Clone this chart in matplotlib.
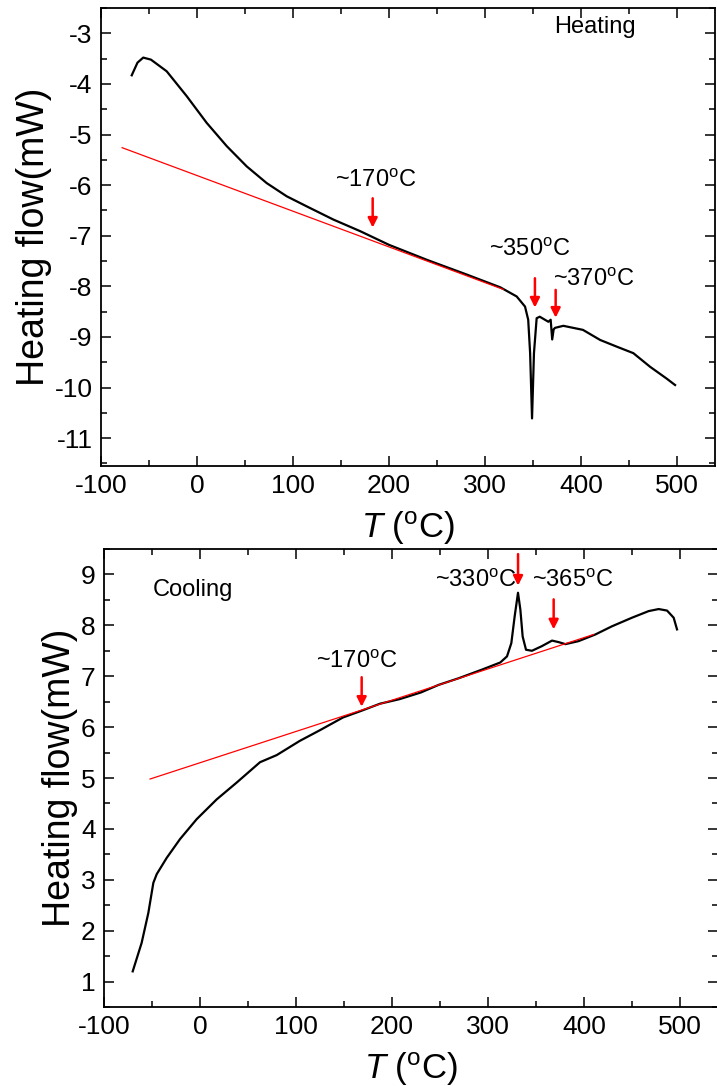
import matplotlib
matplotlib.use("Agg")
import matplotlib.pyplot as plt
from matplotlib.ticker import MultipleLocator

plt.rcParams["font.family"] = ["Liberation Sans", "DejaVu Sans"]
plt.rcParams["mathtext.fontset"] = "custom"
plt.rcParams["mathtext.rm"] = "Liberation Sans"
plt.rcParams["mathtext.it"] = "Liberation Sans:italic"
plt.rcParams["axes.unicode_minus"] = False

# heating run (top panel)
heat_T = [-68, -62, -56, -48, -31.6, -10.8, 10.1, 31, 51.8, 72.6, 93.4, 114.3, 142, 170,
          200, 240, 280, 316, 333, 341.7, 345, 347, 349, 351, 353.8, 357, 366, 368.4,
          370, 371.5, 373, 381.6, 402, 420, 437, 454.5, 472, 489, 498]
heat_flow = [-3.83, -3.58, -3.48, -3.52, -3.75, -4.24, -4.77, -5.23, -5.63, -5.96, -6.22,
             -6.42, -6.68, -6.91, -7.18, -7.48, -7.76, -8.02, -8.20, -8.40, -8.66, -9.32,
             -10.61, -9.32, -8.63, -8.60, -8.70, -8.66, -9.05, -8.85, -8.82, -8.78, -8.86,
             -9.06, -9.19, -9.32, -9.59, -9.82, -9.95]
heat_base_T = [-78, 319]
heat_base = [-5.26, -8.06]

# cooling run (bottom panel)
cool_T = [-70.1, -60.8, -53.8, -48.6, -45.1, -34.7, -20.8, -3.5, 17.4, 38.2, 62.5, 79.9,
          104, 125, 149, 168, 187.5, 208, 230, 248.6, 269.4, 293.75, 312.8, 319.8, 324.3,
          327.8, 331.25, 333.7, 336.1, 339.6, 345.8, 356, 366.7, 373.6, 380.6, 394.4,
          411.8, 429, 450, 467.4, 477.8, 486.5, 493.4, 496.9]
cool_flow = [1.20, 1.76, 2.35, 2.94, 3.11, 3.43, 3.80, 4.19, 4.58, 4.91, 5.31, 5.45, 5.73,
             5.94, 6.19, 6.32, 6.46, 6.55, 6.68, 6.83, 6.96, 7.13, 7.27, 7.39, 7.65, 8.18,
             8.64, 8.31, 7.78, 7.52, 7.50, 7.59, 7.70, 7.67, 7.63, 7.69, 7.82, 7.98, 8.15,
             8.28, 8.32, 8.29, 8.15, 7.92]
cool_base_T = [-52, 410]
cool_base = [4.98, 7.82]

# annotations: label, label position, arrow x, arrow start y, arrow tip y
heat_notes = [("~170$^{\\rm o}$C", (186, -5.91), 183, -6.26, -6.84),
              ("~350$^{\\rm o}$C", (347, -7.28), 352, -7.84, -8.42),
              ("~370$^{\\rm o}$C", (413, -7.87), 373.6, -8.07, -8.62)]
cool_notes = [("~170$^{\\rm o}$C", (163, 7.28), 168.4, 6.98, 6.40),
              ("~330$^{\\rm o}$C", (287, 8.87), 331.3, 9.40, 8.78),
              ("~365$^{\\rm o}$C", (388, 8.87), 368.4, 8.51, 7.92)]

W, H = 717, 1086
fig = plt.figure(figsize=(W / 100, H / 100), dpi=100)
ax1 = fig.add_axes([101 / W, 1 - 466 / H, 614.4 / W, 458 / H])
ax2 = fig.add_axes([104 / W, 1 - 1007 / H, 614.4 / W, 458 / H])


def style(ax, ylim, ymajor):
    ax.set_xlim(-100, 540)
    ax.set_ylim(*ylim)
    ax.xaxis.set_major_locator(MultipleLocator(100))
    ax.xaxis.set_minor_locator(MultipleLocator(50))
    ax.yaxis.set_major_locator(MultipleLocator(ymajor))
    ax.yaxis.set_minor_locator(MultipleLocator(ymajor / 2))
    ax.tick_params(which="both", direction="in", top=True, right=True, width=1.1,
                   labelsize=19, pad=6)
    ax.tick_params(which="major", length=7)
    ax.tick_params(which="minor", length=4)
    for s in ax.spines.values():
        s.set_linewidth(1.3)
    ax.set_xlabel("$T$ ($^{\\rm o}$C)", fontsize=25, labelpad=8)
    ax.set_ylabel("Heating flow(mW)", fontsize=27, labelpad=2)


def notes(ax, items):
    for text, pos, x, y0, y1 in items:
        ax.text(pos[0], pos[1], text, fontsize=17, ha="center", va="center")
        ax.annotate("", xy=(x, y1), xytext=(x, y0),
                    arrowprops=dict(arrowstyle="-|>", color="red", lw=1.8,
                                    mutation_scale=14, shrinkA=0, shrinkB=0))


ax1.plot(heat_T, heat_flow, color="black", lw=1.6)
ax1.plot(heat_base_T, heat_base, color="red", lw=0.9)
style(ax1, (-11.55, -2.5), 1)
notes(ax1, heat_notes)
ax1.text(415, -2.88, "Heating", fontsize=17, ha="center", va="center")

ax2.plot(cool_T, cool_flow, color="black", lw=1.6)
ax2.plot(cool_base_T, cool_base, color="red", lw=0.9)
style(ax2, (0.5, 9.5), 1)
notes(ax2, cool_notes)
ax2.text(-7, 8.70, "Cooling", fontsize=17, ha="center", va="center")

fig.savefig("out.png", dpi=100)
